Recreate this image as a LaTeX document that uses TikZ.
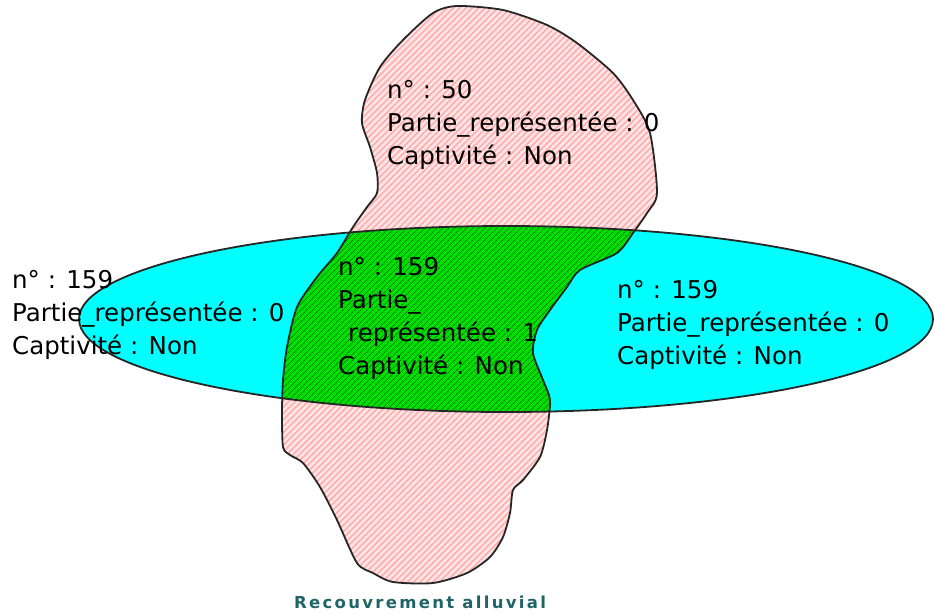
\documentclass[tikz,border=0pt]{standalone}
\usepackage{fontspec}
\setmainfont{DejaVu Sans}
\usetikzlibrary{patterns.meta}

\definecolor{cyanfill}{HTML}{00FFFF}
\definecolor{greenfill}{HTML}{00E000}
\definecolor{tealtext}{HTML}{1F6466}

\tikzset{
  zone/.style={align=left, inner sep=0pt, anchor=west, font=\fontsize{24.5}{33}\selectfont},
  outline/.style={draw=black!85, line width=1.8pt},
}

% alluvial patch outline
\def\patch{plot[smooth cycle, tension=0.45] coordinates {
  (433,13) (457,6) (503,10) (547,25) (577,43) (613,73) (633,100) (650,133)
  (657,193) (647,213) (633,233) (617,253) (580,270) (567,287) (550,310)
  (537,330) (533,353) (543,380) (550,400) (547,430) (540,457) (523,480)
  (513,490) (510,513) (503,537) (490,557) (467,573) (433,583) (393,582)
  (373,573) (357,563) (337,520) (320,487) (303,463) (290,455) (283,447)
  (282,413) (283,380) (287,347) (297,307) (317,277) (337,253) (353,227)
  (367,207) (377,193) (377,173) (370,147) (362,123) (365,100) (380,67) (403,40)}}

\begin{document}
\begin{tikzpicture}[x=1pt, y=-1pt]
  \useasboundingbox (0,0) rectangle (934,614);

  \fill[red!10, postaction={pattern={Lines[angle=45, distance=4.5pt, line width=1.6pt]}, pattern color=red!32}] \patch;
  \fill[cyanfill] (506,319) ellipse [x radius=427, y radius=93];
  \begin{scope}
    \clip \patch;
    \fill[greenfill, postaction={pattern={Lines[angle=45, distance=4pt, line width=0.8pt]}, pattern color=green!45!black}]
      (506,319) ellipse [x radius=427, y radius=93];
  \end{scope}
  \draw[outline] \patch;
  \draw[outline] (506,319) ellipse [x radius=427, y radius=93];

  \node[zone] (amont) at (387,125) {n° : 50\\Partie\_représentée : 0\\Captivité : Non};
  \node[zone] (gauche) at (12,315) {n° : 159\\Partie\_représentée : 0\\Captivité : Non};
  \node[zone] (centre) at (338,318) {n° : 159\\Partie\_\\\hspace{10pt}représentée : 1\\Captivité : Non};
  \node[zone] (droite) at (617,325) {n° : 159\\Partie\_représentée : 0\\Captivité : Non};

  \node[font=\bfseries\fontsize{16.5}{18}\selectfont\addfontfeature{LetterSpace=14}, text=tealtext] (titre) at (420,602) {Recouvrement alluvial};
\end{tikzpicture}
\end{document}
